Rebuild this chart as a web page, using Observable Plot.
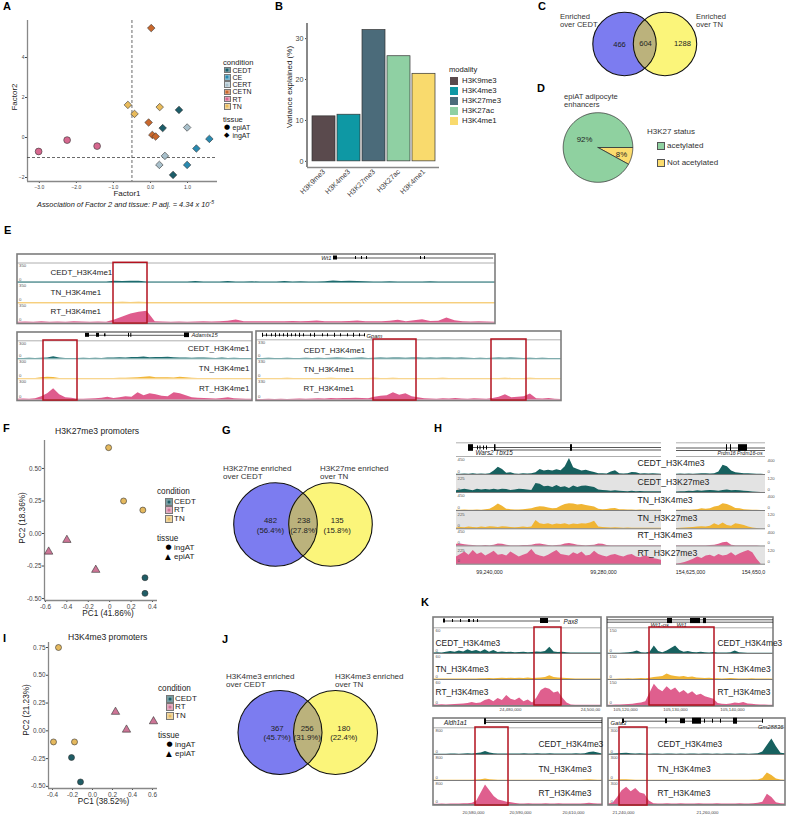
<!DOCTYPE html>
<html><head><meta charset="utf-8">
<script src="https://cdn.jsdelivr.net/npm/d3@7"></script>
<script src="https://cdn.jsdelivr.net/npm/@observablehq/plot@0.6"></script>
<style>
body{margin:0;background:#fff;}
#fig{position:relative;width:789px;height:815px;overflow:hidden;font-family:"Liberation Sans",Arial,Helvetica,sans-serif;color:#222;background:#fff;}
#fig div{position:absolute;white-space:nowrap;line-height:1;}
</style></head><body><div id="fig"></div>
<script>
// ================= DATA =================
// Panel A
const condA = ["CEDT","CE","CERT","CETN","RT","TN"];
const colA = ["#1c5d69","#2a8ab0","#a8c0cb","#c9682d","#d7688f","#e9bb5b"];
const aCond = ["CETN","TN","TN","TN","CEDT","CETN","CEDT","CERT","CETN","CETN","CE","CE","CERT","CERT","CE","CEDT","RT","RT","RT"];
const aTissue = ["ingAT","ingAT","ingAT","ingAT","ingAT","ingAT","ingAT","ingAT","ingAT","ingAT","ingAT","ingAT","ingAT","ingAT","ingAT","ingAT","epiAT","epiAT","epiAT"];
const aFactor1 = [0.02,-0.61,-0.43,0.25,0.77,-0.05,0.33,0.99,0.05,0.14,1.59,1.24,0.39,0.24,0.99,0.61,-3.02,-2.25,-1.44];
const aFactor2 = [5.47,1.63,1.18,1.52,1.38,0.75,0.47,0.50,0.13,0.05,-0.07,-0.55,-0.92,-1.37,-1.37,-1.87,-0.70,-0.13,-0.43];
const aTicksX = [-3,-2,-1,0,1], aTicksY = [-2,0,2,4];
// Panel B
const modality = ["H3K9me3","H3K4me3","H3K27me3","H3K27ac","H3K4me1"];
const varExplained = [11.0,11.4,32.1,25.7,21.4];
const modColors = ["#5a4a4d","#0e98a4","#4b6b7a","#8fd0a3","#f9da6d"];
const bTicks = [0,10,20,30];
// Panel C
const vennC = [466,604,1288];
// Panel D
const pieLabels = ["Not acetylated","acetylated"];
const pieValues = [8,92];
const pieColors = ["#fbdc6e","#8fd1a0"];
// Panels F, I
const condPC = ["CEDT","RT","TN"], colPC = ["#1f5d66","#cd7596","#e5b95e"];
const fCond = ["TN","TN","TN","RT","RT","RT","CEDT","CEDT"];
const fTissue = ["ingAT","ingAT","ingAT","epiAT","epiAT","epiAT","ingAT","ingAT"];
const fPC1 = [-0.01,0.13,0.31,-0.57,-0.40,-0.13,0.33,0.33];
const fPC2 = [0.66,0.25,0.18,-0.14,-0.05,-0.28,-0.34,-0.46];
const iCond = ["TN","TN","TN","CEDT","CEDT","RT","RT","RT"];
const iTissue = ["ingAT","ingAT","ingAT","ingAT","ingAT","epiAT","epiAT","epiAT"];
const iPC1 = [-0.34,-0.39,-0.18,-0.21,-0.12,0.23,0.34,0.61];
const iPC2 = [0.75,-0.10,-0.10,-0.24,-0.46,0.17,0.01,0.085];
// Panels G, J
const vennG = [482,238,135], vennGPct = ["56.4%","27.8%","15.8%"];
const vennJ = [367,256,180], vennJPct = ["45.7%","31.9%","22.4%"];
// Panel E tracks (fraction of track max)
const E1_CEDT = [0.02,0.02,0.03,0.02,0.02,0.03,0.02,0.02,0.03,0.02,0.02,0.02,0.06,0.05,0.07,0.06,0.03,0.02,0.03,0.02,0.03,0.02,0.05,0.02,0.03,0.02,0.05,0.03,0.02,0.04,0.02,0.03,0.02,0.05,0.03,0.04,0.02,0.03,0.04,0.08,0.05,0.06,0.05,0.04,0.03,0.02,0.04,0.02,0.03,0.02,0.03,0.04,0.02,0.03,0.02,0.03,0.02,0.03,0.02,0.02];
const E1_TN = [0.02,0.02,0.02,0.03,0.02,0.02,0.02,0.03,0.02,0.02,0.02,0.02,0.03,0.04,0.03,0.04,0.02,0.02,0.02,0.02,0.03,0.02,0.02,0.02,0.02,0.03,0.02,0.02,0.02,0.02,0.02,0.03,0.02,0.02,0.02,0.03,0.02,0.02,0.02,0.02,0.03,0.02,0.02,0.02,0.02,0.02,0.03,0.02,0.02,0.02,0.02,0.03,0.02,0.02,0.02,0.02,0.03,0.02,0.02,0.02];
const E1_RT = [0.03,0.04,0.03,0.05,0.03,0.04,0.03,0.05,0.04,0.03,0.04,0.03,0.15,0.3,0.45,0.55,0.6,0.05,0.04,0.03,0.04,0.03,0.04,0.05,0.04,0.06,0.08,0.14,0.06,0.05,0.06,0.05,0.06,0.05,0.07,0.06,0.07,0.09,0.06,0.05,0.06,0.07,0.09,0.06,0.05,0.06,0.08,0.13,0.06,0.1,0.16,0.07,0.08,0.25,0.1,0.05,0.04,0.05,0.04,0.03];
const E2_CEDT = [0.02,0.02,0.03,0.02,0.03,0.05,0.12,0.04,0.02,0.02,0.02,0.03,0.02,0.03,0.02,0.04,0.05,0.06,0.05,0.08,0.07,0.1,0.06,0.08,0.07,0.09,0.06,0.05,0.04,0.03,0.05,0.04,0.03,0.02,0.04,0.02,0.03,0.02,0.02,0.02];
const E2_TN = [0.02,0.02,0.02,0.02,0.06,0.08,0.07,0.02,0.02,0.02,0.02,0.02,0.02,0.02,0.02,0.02,0.02,0.03,0.03,0.04,0.05,0.08,0.1,0.06,0.05,0.06,0.04,0.08,0.05,0.03,0.02,0.02,0.02,0.02,0.02,0.02,0.02,0.02,0.02,0.02];
const E2_RT = [0.03,0.04,0.03,0.05,0.15,0.3,0.55,0.25,0.1,0.08,0.03,0.03,0.04,0.05,0.08,0.12,0.06,0.1,0.15,0.12,0.35,0.2,0.3,0.25,0.18,0.15,0.35,0.3,0.2,0.1,0.08,0.06,0.05,0.04,0.06,0.1,0.05,0.04,0.03,0.03];
const E3_CEDT = [0.02,0.02,0.03,0.02,0.02,0.03,0.02,0.02,0.03,0.02,0.03,0.02,0.03,0.04,0.03,0.02,0.03,0.04,0.02,0.03,0.04,0.03,0.05,0.04,0.03,0.05,0.04,0.03,0.04,0.03,0.05,0.04,0.03,0.04,0.03,0.02,0.03,0.02,0.03,0.04,0.03,0.05,0.03,0.02,0.03,0.02,0.03,0.02,0.02,0.02];
const E3_TN = [0.02,0.02,0.02,0.02,0.02,0.03,0.02,0.02,0.02,0.02,0.02,0.02,0.03,0.02,0.02,0.02,0.02,0.02,0.02,0.03,0.02,0.02,0.03,0.02,0.02,0.02,0.02,0.02,0.02,0.02,0.03,0.02,0.02,0.02,0.02,0.02,0.02,0.02,0.02,0.02,0.03,0.02,0.02,0.02,0.03,0.02,0.02,0.02,0.02,0.02];
const E3_RT = [0.02,0.02,0.03,0.02,0.03,0.02,0.03,0.04,0.03,0.04,0.05,0.04,0.06,0.05,0.07,0.06,0.08,0.06,0.05,0.12,0.18,0.2,0.35,0.22,0.3,0.15,0.1,0.05,0.04,0.03,0.05,0.04,0.06,0.04,0.03,0.05,0.04,0.03,0.06,0.12,0.25,0.1,0.12,0.15,0.28,0.05,0.04,0.06,0.03,0.02];
// Panel H tracks: left locus (Wars2/Tbx15) and right locus (Prdm16)
const HL_CEDT_K4 = [0.02,0.02,0.03,0.02,0.05,0.02,0.03,0.02,0.04,0.2,0.42,0.3,0.08,0.1,0.03,0.02,0.04,0.03,0.05,0.1,0.3,0.2,0.25,0.2,0.28,0.22,0.45,0.94,0.4,0.3,0.2,0.25,0.18,0.12,0.05,0.04,0.03,0.15,0.22,0.05,0.03,0.04,0.12,0.1,0.03,0.05,0.03,0.04,0.03,0.02];
const HL_CEDT_K27 = [0.1,0.15,0.2,0.15,0.1,0.2,0.15,0.18,0.15,0.2,0.15,0.2,0.18,0.12,0.15,0.2,0.18,0.15,0.12,0.55,0.5,0.35,0.38,0.3,0.42,0.3,0.35,0.25,0.4,0.3,0.38,0.4,0.35,0.3,0.15,0.12,0.1,0.08,0.1,0.08,0.06,0.05,0.08,0.05,0.06,0.04,0.05,0.04,0.05,0.04];
const HL_TN_K4 = [0.02,0.02,0.03,0.02,0.02,0.03,0.02,0.05,0.08,0.2,0.38,0.25,0.08,0.05,0.03,0.03,0.05,0.08,0.1,0.18,0.22,0.2,0.15,0.1,0.12,0.25,0.35,0.4,0.38,0.32,0.35,0.3,0.25,0.2,0.08,0.05,0.06,0.1,0.12,0.05,0.04,0.03,0.03,0.02,0.03,0.02,0.02,0.02,0.02,0.02];
const HL_TN_K27 = [0.05,0.08,0.06,0.1,0.08,0.06,0.1,0.08,0.12,0.1,0.08,0.12,0.1,0.08,0.06,0.08,0.1,0.08,0.1,0.5,0.3,0.25,0.3,0.22,0.28,0.25,0.3,0.22,0.28,0.25,0.3,0.28,0.35,0.45,0.1,0.08,0.06,0.05,0.06,0.05,0.04,0.05,0.04,0.03,0.04,0.03,0.03,0.03,0.03,0.03];
const HL_RT_K4 = [0.1,0.12,0.08,0.05,0.03,0.02,0.02,0.03,0.02,0.05,0.12,0.1,0.04,0.02,0.02,0.02,0.03,0.03,0.04,0.1,0.12,0.08,0.03,0.02,0.03,0.04,0.12,0.15,0.1,0.05,0.03,0.02,0.03,0.05,0.12,0.1,0.03,0.02,0.02,0.02,0.02,0.02,0.02,0.02,0.02,0.02,0.02,0.02,0.02,0.02];
const HL_RT_K27 = [0.45,0.6,0.75,0.55,0.85,0.6,0.7,0.5,0.65,0.8,0.55,0.6,0.5,0.75,0.6,0.45,0.55,0.65,0.9,0.6,0.5,0.45,0.55,0.7,0.85,0.6,0.55,0.5,0.7,0.6,0.75,0.5,0.55,0.8,0.6,0.5,0.45,0.55,0.6,0.5,0.45,0.55,0.6,0.45,0.4,0.5,0.45,0.35,0.3,0.25];
const HR_CEDT_K4 = [0.02,0.03,0.02,0.03,0.02,0.03,0.05,0.04,0.03,0.05,0.15,0.55,0.45,0.2,0.1,0.08,0.05,0.04,0.03,0.02,0.01,0];
const HR_CEDT_K27 = [0.03,0.05,0.05,0.08,0.06,0.1,0.08,0.1,0.12,0.1,0.08,0.12,0.15,0.1,0.12,0.1,0.08,0.06,0.03,0.02,0,0];
const HR_TN_K4 = [0.02,0.02,0.03,0.02,0.03,0.05,0.1,0.08,0.1,0.2,0.25,0.4,0.35,0.25,0.12,0.1,0.05,0.03,0.02,0.02,0,0];
const HR_TN_K27 = [0.02,0.04,0.05,0.06,0.08,0.1,0.12,0.1,0.15,0.3,0.2,0.35,0.2,0.15,0.3,0.25,0.2,0.1,0.05,0.02,0,0];
const HR_RT_K4 = [0.01,0.01,0.01,0.01,0.02,0.02,0.02,0.02,0.03,0.05,0.1,0.2,0.22,0.05,0.02,0.02,0.01,0.01,0.01,0.01,0,0];
const HR_RT_K27 = [0.02,0.05,0.1,0.2,0.3,0.45,0.35,0.5,0.55,0.45,0.6,0.5,0.55,0.7,0.5,0.65,0.75,0.85,0.7,0.3,0,0];
// Panel K tracks
const K1_CEDT = [0.02,0.03,0.02,0.05,0.08,0.05,0.1,0.06,0.15,0.08,0.12,0.06,0.15,0.05,0.12,0.04,0.06,0.04,0.05,0.03,0.04,0.05,0.03,0.04,0.06,0.05,0.08,0.25,0.06,0.04,0.05,0.03,0.02,0.02,0.02,0.02,0.02,0.02,0.02,0.02];
const K1_TN = [0.02,0.02,0.02,0.02,0.02,0.02,0.02,0.02,0.02,0.02,0.02,0.03,0.03,0.04,0.03,0.04,0.05,0.04,0.05,0.04,0.05,0.04,0.06,0.04,0.05,0.06,0.08,0.15,0.08,0.06,0.05,0.04,0.03,0.02,0.02,0.02,0.02,0.02,0.02,0.02];
const K1_RT = [0.02,0.02,0.03,0.02,0.03,0.04,0.05,0.06,0.08,0.12,0.08,0.1,0.2,0.25,0.15,0.28,0.2,0.4,0.25,0.2,0.3,0.15,0.22,0.1,0.3,0.6,0.7,0.65,0.5,0.55,0.3,0.1,0.02,0.01,0.01,0.01,0.01,0.01,0.01,0.01];
const K2_CEDT = [0.01,0.01,0.01,0.01,0.02,0.03,0.05,0.1,0.03,0.02,0.05,0.3,0.08,0.03,0.1,0.2,0.3,0.12,0.05,0.08,0.04,0.03,0.05,0.03,0.02,0.04,0.02,0.02,0.02,0.03,0.1,0.03,0.02,0.01,0.01,0.01,0.01,0.01,0.01,0.01];
const K2_TN = [0.01,0.01,0.01,0.02,0.02,0.03,0.02,0.03,0.04,0.03,0.05,0.08,0.1,0.12,0.22,0.15,0.12,0.1,0.12,0.08,0.1,0.06,0.05,0.04,0.05,0.03,0.03,0.02,0.03,0.04,0.03,0.02,0.02,0.02,0.03,0.02,0.02,0.02,0.02,0.01];
const K2_RT = [0.01,0.01,0.02,0.02,0.03,0.04,0.05,0.08,0.1,0.15,0.5,0.85,0.65,0.55,0.75,0.6,0.7,0.5,0.6,0.45,0.55,0.4,0.45,0.35,0.3,0.25,0.08,0.05,0.04,0.06,0.1,0.08,0.12,0.06,0.05,0.03,0.02,0.02,0.01,0.01];
const K3_CEDT = [0.01,0.01,0.01,0.01,0.02,0.02,0.01,0.02,0.03,0.02,0.04,0.06,0.12,0.06,0.03,0.02,0.02,0.02,0.02,0.02,0.02,0.03,0.02,0.02,0.03,0.02,0.02,0.03,0.02,0.02,0.02,0.02,0.02,0.03,0.02,0.03,0.08,0.1,0.06,0.02];
const K3_TN = [0.01,0.01,0.01,0.01,0.01,0.01,0.01,0.01,0.01,0.01,0.02,0.03,0.06,0.03,0.02,0.01,0.01,0.01,0.01,0.01,0.01,0.01,0.01,0.01,0.01,0.01,0.01,0.01,0.01,0.01,0.01,0.01,0.01,0.01,0.01,0.02,0.03,0.02,0.01,0.01];
const K3_RT = [0.01,0.01,0.02,0.01,0.02,0.02,0.02,0.03,0.03,0.05,0.15,0.5,0.85,0.6,0.35,0.2,0.15,0.1,0.08,0.04,0.02,0.02,0.03,0.02,0.02,0.02,0.03,0.02,0.02,0.03,0.02,0.02,0.02,0.02,0.02,0.03,0.05,0.03,0.02,0.02];
const K4_CEDT = [0.01,0.02,0.03,0.04,0.05,0.03,0.02,0.03,0.02,0.01,0.02,0.02,0.01,0.02,0.02,0.01,0.02,0.01,0.02,0.02,0.01,0.02,0.02,0.01,0.02,0.01,0.02,0.02,0.01,0.02,0.02,0.01,0.02,0.03,0.1,0.35,0.6,0.3,0.05,0.03];
const K4_TN = [0.01,0.01,0.02,0.03,0.03,0.02,0.01,0.01,0.01,0.01,0.01,0.01,0.01,0.01,0.01,0.01,0.01,0.01,0.01,0.01,0.01,0.01,0.01,0.01,0.01,0.01,0.01,0.01,0.01,0.01,0.01,0.01,0.02,0.02,0.08,0.3,0.2,0.06,0.02,0.01];
const K4_RT = [0.02,0.05,0.3,0.6,0.75,0.55,0.7,0.5,0.45,0.15,0.03,0.02,0.02,0.03,0.02,0.02,0.03,0.02,0.02,0.02,0.03,0.02,0.02,0.02,0.03,0.02,0.02,0.02,0.02,0.03,0.02,0.02,0.03,0.05,0.1,0.45,0.3,0.08,0.03,0.02];

// ================= HELPERS =================
const FONT = '"Liberation Sans", Arial, Helvetica, sans-serif';
const fig = document.getElementById("fig");
function T(x, y, html, o = {}) {
  const s = o.size || 8, d = document.createElement("div");
  d.innerHTML = html;
  d.style.left = x + "px";
  d.style.fontSize = s + "px";
  d.style.color = o.color || "#222";
  if (o.italic) d.style.fontStyle = "italic";
  if (o.bold) d.style.fontWeight = "bold";
  if (o.font) d.style.fontFamily = o.font;
  if (o.rotate) { d.style.top = y + "px"; d.style.transform = `translate(-50%,-50%) rotate(${o.rotate}deg)`; }
  else {
    d.style.top = (y - s * 0.5) + "px";
    if (o.anchor === "end") d.style.transform = "translateX(-100%)";
    else if (o.anchor === "middle") d.style.transform = "translateX(-50%)";
  }
  fig.appendChild(d); return d;
}
function box(x, y, w, h, css) { const d = document.createElement("div"); d.style.cssText = `left:${x}px;top:${y}px;width:${w}px;height:${h}px;box-sizing:border-box;${css}`; fig.appendChild(d); return d; }
function keySwatch(x, yc, color, sz = 8) {
  const d = box(x, yc - sz / 2, sz, sz, `background:${color}99;border:1px solid #777;`);
  const e = document.createElement("div");
  e.style.cssText = `left:50%;top:50%;width:3px;height:3px;border-radius:50%;background:${color};transform:translate(-50%,-50%);`;
  d.appendChild(e);
}
function plotAt(opts, x, y) {
  const svg = Plot.plot(Object.assign({style: {background: "transparent", fontFamily: FONT, fontSize: "6.5px", color: "#333", overflow: "visible"}}, opts));
  svg.style.position = "absolute"; svg.style.left = x + "px"; svg.style.top = y + "px"; svg.style.maxWidth = "none";
  fig.appendChild(svg); return svg;
}
function idScales(L, Tp, W, H) {
  return {width: W, height: H, margin: 0,
    x: {domain: [L, L + W], range: [0, W], axis: null},
    y: {domain: [Tp, Tp + H], range: [0, H], axis: null}};
}
function tx(x, y, t, s = 8, a = "start", i = false, f = "#222") { return {x, y, t, s, a, i, f}; }
function groupTexts(texts) {
  const g = new Map();
  for (const t of texts) { const k = [t.a, t.i ? 1 : 0, t.s, t.f].join("|"); if (!g.has(k)) g.set(k, []); g.get(k).push(t); }
  return [...g].map(([k, arr]) => { const [a, i, s, f] = k.split("|");
    return Plot.text(arr, {x: "x", y: "y", text: "t", textAnchor: a, fontStyle: i === "1" ? "italic" : "normal", fontSize: +s, fill: f}); });
}
const ex = (x1, x2, yc, h) => ({x1, x2, y1: yc - h, y2: yc + h});
const rr = (x1, x2, y1, y2) => ({x1, x2, y1, y2});
const hl = (x1, x2, y) => ({x1, x2, y});

function genome(L, Tp, W, H, g) {
  const m = [];
  if (g.grey) m.push(Plot.rect(g.grey, {x1: "x1", x2: "x2", y1: "y1", y2: "y2", fill: "#e3e3e3"}));
  for (const t of g.tracks) {
    const n = t.v.length;
    const pts = t.v.map((v, i) => ({x: t.xa + (t.xb - t.xa) * i / (n - 1), b: t.y1, y: t.y1 - v * (t.y1 - t.y0)}));
    m.push(Plot.areaY(pts, {x: "x", y1: "b", y2: "y", fill: t.c}));
    m.push(Plot.ruleY([hl(t.xa, t.xb, t.y1)], {y: "y", x1: "x1", x2: "x2", stroke: g.baseColor || t.c, strokeWidth: g.baseW || 0.7}));
  }
  if (g.seps) m.push(Plot.ruleY(g.seps, {y: "y", x1: "x1", x2: "x2", stroke: "#9a9a9a", strokeWidth: 0.8}));
  if (g.boxes) m.push(Plot.rect(g.boxes, {x1: "x1", x2: "x2", y1: "y1", y2: "y2", fill: "none", stroke: "#7d7d7d", strokeWidth: 1.6}));
  if (g.geneLines) m.push(Plot.ruleY(g.geneLines, {y: "y", x1: "x1", x2: "x2", stroke: "#111", strokeWidth: 0.7}));
  if (g.exons) m.push(Plot.rect(g.exons, {x1: "x1", x2: "x2", y1: "y1", y2: "y2", fill: "#000"}));
  m.push(...groupTexts(g.texts));
  if (g.reds) m.push(Plot.rect(g.reds, {x1: "x1", x2: "x2", y1: "y1", y2: "y2", fill: "none", stroke: "#b3121f", strokeWidth: 1.5}));
  plotAt(Object.assign(idScales(L, Tp, W, H), {marks: m}), L, Tp);
}
function venn(L, Tp, W, H, cx1, cx2, cy, r, labelTexts) {
  const a = cx2 - r, b = cx1 + r, lens = [];
  for (let k = 0; k <= 80; k++) {
    const x = a + (b - a) * k / 80;
    const h = Math.min(Math.sqrt(Math.max(0, r * r - (x - cx1) ** 2)), Math.sqrt(Math.max(0, r * r - (x - cx2) ** 2)));
    lens.push({x, y1: cy - h, y2: cy + h});
  }
  const c = [{x: cx1, y: cy}, {x: cx2, y: cy}];
  plotAt(Object.assign(idScales(L, Tp, W, H), {marks: [
    Plot.dot([c[0]], {x: "x", y: "y", r, fill: "#7c7cf0", stroke: "none"}),
    Plot.dot([c[1]], {x: "x", y: "y", r, fill: "#fbf57a", stroke: "none"}),
    Plot.areaY(lens, {x: "x", y1: "y1", y2: "y2", fill: "#bbb27c"}),
    Plot.dot(c, {x: "x", y: "y", r, fill: "none", stroke: "#111", strokeWidth: 1.1}),
    ...groupTexts(labelTexts)
  ]}), L, Tp);
}

// ================= PANEL LETTERS =================
[["A",3,6],["B",275,6],["C",538,6],["D",537,88],["E",4,230],["F",3,428],["G",222,430],["H",434,428],["I",3,638],["J",222,639],["K",421,602]]
  .forEach(([l, x, y]) => T(x, y, l, {size: 11, bold: true, color: "#000"}));

// ================= PANEL A =================
const aRows = aCond.map((c, i) => ({cond: c, tissue: aTissue[i], f1: aFactor1[i], f2: aFactor2[i]}));
const aX = [-3.32, 1.81], aY = [-2.2, 5.85];
plotAt({
  width: 220, height: 200, marginLeft: 27, marginRight: 3, marginTop: 20, marginBottom: 19,
  style: {background: "transparent", fontFamily: FONT, fontSize: "5px", color: "#444", overflow: "visible"},
  x: {domain: aX, ticks: aTicksX, tickSize: 2, tickPadding: 2, label: null},
  y: {domain: aY, ticks: aTicksY, tickSize: 2, tickPadding: 1, label: null},
  color: {domain: condA, range: colA},
  symbol: {domain: ["epiAT", "ingAT"], range: ["circle", "diamond2"]},
  marks: [
    Plot.ruleX([aX[0]], {stroke: "#888", strokeWidth: 1.3}),
    Plot.ruleY([aY[0]], {stroke: "#888", strokeWidth: 1.3}),
    Plot.ruleX([-0.5], {stroke: "#444", strokeDasharray: "3,2", strokeWidth: 0.8}),
    Plot.ruleY([-1], {stroke: "#444", strokeDasharray: "3,2", strokeWidth: 0.8}),
    Plot.dot(aRows, {x: "f1", y: "f2", fill: "cond", symbol: "tissue", r: 3.4, stroke: "#333", strokeWidth: 0.6})
  ]
}, 0, 0);
T(127, 194, "Factor1", {size: 8, anchor: "middle"});
T(15, 97, "Factor2", {size: 8, rotate: -90});
T(37, 204, "Association of Factor 2 and tissue: P adj. = 4.34 x 10<sup style='font-size:5px;vertical-align:3px'>-5</sup>", {size: 7.4, italic: true});
T(223, 62.5, "condition", {size: 7.6});
condA.forEach((c, i) => { const y = 70 + i * 7.3; keySwatch(224, y, colA[i], 6.6); T(232.5, y, c, {size: 7}); });
T(223, 119.5, "tissue", {size: 7.6});
T(224, 127.5, "●", {size: 7, font: "DejaVu Sans", color: "#000"}); T(232.5, 127.5, "epiAT", {size: 7});
T(224, 135, "◆", {size: 7, font: "DejaVu Sans", color: "#000"}); T(232.5, 135, "ingAT", {size: 7});

// ================= PANEL B =================
const bRows = modality.map((m, i) => ({m, v: varExplained[i]}));
plotAt({
  width: 180, height: 200, marginLeft: 45, marginRight: 3, marginTop: 23, marginBottom: 33,
  style: {background: "transparent", fontFamily: FONT, fontSize: "7.2px", color: "#444", overflow: "visible"},
  x: {domain: modality, paddingInner: 0.1, paddingOuter: 0.13, tickRotate: -45, tickSize: 0, tickPadding: 3, label: null},
  y: {domain: [-1.5, 33.7], ticks: bTicks, tickSize: 2, tickPadding: 2, label: null},
  color: {domain: modality, range: modColors},
  marks: [
    Plot.ruleY([-1.5], {stroke: "#888", strokeWidth: 1.3}),
    Plot.barY(bRows, {x: "m", y: "v", fill: "m", stroke: "#333", strokeWidth: 0.7})
  ]
}, 262, 0);
box(306.4, 23, 1.3, 144, "background:#888;");
T(290, 87, "Variance explained (%)", {size: 8, rotate: -90});
T(449, 70, "modality", {size: 7.6});
modality.forEach((m, i) => { const y = 80.5 + i * 10.05; box(450, y - 4, 8, 8, `background:${modColors[i]};`); T(462, y, m, {size: 7.8}); });

// ================= PANEL C =================
venn(540, 0, 249, 85, 624, 664.5, 43.5, 31.7, [
  tx(619, 44.5, String(vennC[0]), 7.6, "middle"), tx(645, 43, String(vennC[1]), 7.6, "middle"), tx(682, 43, String(vennC[2]), 7.6, "middle")
]);
T(560, 17, "Enriched", {size: 7.6, color: "#333"}); T(560, 25.2, "over CEDT", {size: 7.6, color: "#333"});
T(696, 17, "Enriched", {size: 7.6, color: "#333"}); T(696, 25.2, "over TN", {size: 7.6, color: "#333"});

// ================= PANEL D =================
{
  const cx = 597.5, cy = 147, r = 34.8, total = d3.sum(pieValues);
  const marks = []; let acc = 0;
  pieValues.forEach((v, i) => {
    const a0 = acc / total * 2 * Math.PI, a1 = (acc + v) / total * 2 * Math.PI; acc += v;
    const pts = [{x: cx, y: cy}];
    const n = Math.max(4, Math.ceil((a1 - a0) / 0.03));
    for (let k = 0; k <= n; k++) { const a = a0 + (a1 - a0) * k / n; pts.push({x: cx + r * Math.cos(a), y: cy + r * Math.sin(a)}); }
    pts.push({x: cx, y: cy});
    marks.push(Plot.line(pts, {x: "x", y: "y", fill: pieColors[i], stroke: "#333", strokeWidth: 0.8}));
  });
  marks.push(...groupTexts([tx(584, 139, Math.round(pieValues[1]) + "%", 7.8, "middle"), tx(621, 154, Math.round(pieValues[0]) + "%", 7.8, "middle")]));
  plotAt(Object.assign(idScales(540, 85, 110, 110), {marks}), 540, 85);
}
T(564, 97, "epiAT adipocyte", {size: 7.6, color: "#333"}); T(564, 105.2, "enhancers", {size: 7.6, color: "#333"});
T(647, 132, "H3K27 status", {size: 8, color: "#333"});
box(657, 142, 8, 8, `background:${pieColors[1]};border:0.8px solid #555;`); T(667, 146, pieLabels[1], {size: 8, color: "#333"});
box(657, 158.5, 8, 8, `background:${pieColors[0]};border:0.8px solid #555;`); T(667, 162.5, pieLabels[0], {size: 8, color: "#333"});

// ================= PANEL E =================
{
  const TEAL = "#1d6b6e", YEL = "#f1b73a", PINK = "#df5c8d";
  const tr = [
    {v: E1_CEDT, xa: 17, xb: 495, y0: 263, y1: 282, c: TEAL}, {v: E1_TN, xa: 17, xb: 495, y0: 283, y1: 302.5, c: YEL}, {v: E1_RT, xa: 17, xb: 495, y0: 303, y1: 322.3, c: PINK},
    {v: E2_CEDT, xa: 17, xb: 252, y0: 341, y1: 358.3, c: TEAL}, {v: E2_TN, xa: 17, xb: 252, y0: 359, y1: 378.3, c: YEL}, {v: E2_RT, xa: 17, xb: 252, y0: 379, y1: 399.3, c: PINK},
    {v: E3_CEDT, xa: 256, xb: 561, y0: 340, y1: 358.3, c: TEAL}, {v: E3_TN, xa: 256, xb: 561, y0: 359, y1: 378.3, c: YEL}, {v: E3_RT, xa: 256, xb: 561, y0: 379, y1: 399.3, c: PINK}
  ];
  const texts = [
    tx(50, 272, "CEDT_H3K4me1"), tx(50, 291.5, "TN_H3K4me1"), tx(50, 311, "RT_H3K4me1"),
    tx(249, 348, "CEDT_H3K4me1", 8, "end"), tx(249, 368, "TN_H3K4me1", 8, "end"), tx(249, 388, "RT_H3K4me1", 8, "end"),
    tx(303, 350, "CEDT_H3K4me1"), tx(303, 369, "TN_H3K4me1"), tx(303, 388, "RT_H3K4me1"),
    tx(331, 257.5, "Wt1", 5.8, "end", true), tx(191, 335, "Adamts15", 5.8, "start", true), tx(366, 336, "Gpam", 5.8, "start", true)
  ];
  const scl = ["350", "350", "350", "300", "300", "300", "330", "330", "330"];
  tr.forEach((t, i) => { texts.push(tx(t.xa + 1.5, t.y0 + 2.2, scl[i], 4.3, "start", false, "#555")); texts.push(tx(t.xa + 1.5, t.y1 - 3, "0", 4.3, "start", false, "#555")); });
  const gpamTicks = [262, 266, 271, 275, 279, 283, 287, 291, 295, 299, 303, 310, 314, 322, 327, 334, 340, 347, 353, 359, 364];
  genome(14, 250, 552, 153, {
    tracks: tr, baseW: 0.6,
    boxes: [rr(17, 495, 254, 323.5), rr(17, 252, 332, 400.5), rr(256, 561, 331, 400.5)],
    seps: [hl(17, 495, 262.5), hl(17, 252, 340.3), hl(256, 561, 339.3)],
    geneLines: [hl(333, 493, 257.5), hl(86, 187, 334.8), hl(262, 365, 334.8)],
    exons: [ex(333, 337, 257.5, 2), ex(355, 356, 257.5, 1.5), ex(361, 362, 257.5, 1.5), ex(366, 367, 257.5, 1.5), ex(420, 421, 257.5, 1.5), ex(424, 425, 257.5, 1.5),
      ex(85, 89, 334.8, 2), ex(96, 99, 334.8, 2), ex(104, 105.5, 334.8, 1.5), ex(128, 129, 334.8, 2), ex(130.3, 131.3, 334.8, 2), ex(184, 189, 334.8, 2.3),
      ...gpamTicks.map((x, i) => ex(x, x + 1, 334.8, i % 3 === 0 ? 2 : 1.5))],
    reds: [rr(113, 147, 262.3, 323), rr(43, 77, 340, 400), rr(373, 416, 339, 400), rr(491, 526, 339, 400)],
    texts
  });
}

// ================= PANEL F =================
function pcScatter(rows, left, top, W, H, mg, xd, yd, xt, yt, xfmt) {
  plotAt({
    width: W, height: H, marginLeft: mg[0], marginTop: mg[1], marginRight: mg[2], marginBottom: mg[3],
    style: {background: "transparent", fontFamily: FONT, fontSize: "6.4px", color: "#444", overflow: "visible"},
    x: {domain: xd, ticks: xt, tickFormat: xfmt, tickSize: 2, tickPadding: 1.5, label: null},
    y: {domain: yd, ticks: yt, tickFormat: d => d.toFixed(2), tickSize: 2, tickPadding: 1, label: null},
    color: {domain: condPC, range: colPC},
    symbol: {domain: ["ingAT", "epiAT"], range: ["circle", "triangle"]},
    marks: [
      Plot.ruleX([xd[0]], {stroke: "#888", strokeWidth: 1.3}),
      Plot.ruleY([yd[0]], {stroke: "#888", strokeWidth: 1.3}),
      Plot.dot(rows, {x: "pc1", y: "pc2", fill: "cond", symbol: "tissue", r: d => d.tissue === "epiAT" ? 3.3 : 3.1, stroke: "#333", strokeWidth: 0.6})
    ]
  }, left, top);
}
const fRows = fCond.map((c, i) => ({cond: c, tissue: fTissue[i], pc1: fPC1[i], pc2: fPC2[i]}));
pcScatter(fRows, 0, 430, 160, 195, [44, 10, 3, 25], [-0.609, 0.447], [-0.515, 0.715], [-0.6, -0.4, -0.2, 0, 0.2, 0.4], [-0.5, -0.25, 0, 0.25, 0.5], d => d === 0 ? "0" : d.toFixed(1));
T(55, 431, "H3K27me3 promoters", {size: 8.6});
T(108, 614, "PC1 (41.86%)", {size: 8.2, anchor: "middle"});
T(23, 518, "PC2 (18.36%)", {size: 8.2, rotate: -90});
function pcLegend(x, yc, yt) {
  T(x, yc, "condition", {size: 8.2});
  condPC.forEach((c, i) => { const y = yc + 9.7 + i * 8.6; keySwatch(x + 7.5, y, colPC[i]); T(x + 17, y, c, {size: 8}); });
  T(x, yt, "tissue", {size: 8.2});
  T(x + 8.5, yt + 8.5, "●", {size: 7, font: "DejaVu Sans", color: "#000"}); T(x + 17, yt + 8.5, "ingAT", {size: 8});
  T(x + 8, yt + 17.8, "▲", {size: 7.5, font: "DejaVu Sans", color: "#000"}); T(x + 17, yt + 17.8, "epiAT", {size: 8});
}
pcLegend(157, 492, 539);

// ================= PANEL G =================
venn(220, 440, 180, 140, 275, 330, 524, 41.8, [
  tx(270, 520.3, String(vennG[0])), tx(270, 529.5, `(${vennGPct[0]})`), tx(303.3, 520.3, String(vennG[1])), tx(303.3, 529.5, `(${vennGPct[1]})`),
  tx(336.7, 520.3, String(vennG[2])), tx(336.7, 529.5, `(${vennGPct[2]})`)
].map(t => Object.assign(t, {a: "middle", s: 7.8, f: "#222"})));
T(223, 468.5, "H3K27me enriched", {size: 8, color: "#333"}); T(223, 477, "over CEDT", {size: 8, color: "#333"});
T(320, 468.5, "H3K27me enriched", {size: 8, color: "#333"}); T(320, 477, "over TN", {size: 8, color: "#333"});

// ================= PANEL H =================
{
  const TEAL = "#17615f", YEL = "#f0b534", PINK = "#df5f8e";
  const rows = [
    ["CEDT_H3K4me3", TEAL, HL_CEDT_K4, HR_CEDT_K4, 457, 474, "450", "400"],
    ["CEDT_H3K27me3", TEAL, HL_CEDT_K27, HR_CEDT_K27, 475.5, 492, "225", "120"],
    ["TN_H3K4me3", YEL, HL_TN_K4, HR_TN_K4, 493, 510, "450", "400"],
    ["TN_H3K27me3", YEL, HL_TN_K27, HR_TN_K27, 511.5, 528.3, "225", "120"],
    ["RT_H3K4me3", PINK, HL_RT_K4, HR_RT_K4, 529, 545.5, "450", "400"],
    ["RT_H3K27me3", PINK, HL_RT_K27, HR_RT_K27, 547.5, 563.7, "225", "120"]
  ];
  const tracks = [], texts = [], grey = [];
  const labY = [463, 481.5, 500, 518, 534.5, 553];
  rows.forEach((r, i) => {
    tracks.push({v: r[2], xa: 456, xb: 661, y0: r[4], y1: r[5], c: r[1]});
    tracks.push({v: r[3], xa: 676, xb: 765, y0: r[4], y1: r[5], c: r[1]});
    if (i % 2 === 1) { grey.push(rr(456, 661, r[4] - 0.5, r[5])); grey.push(rr(676, 765, r[4] - 0.5, r[5])); }
    texts.push(tx(457, r[4] + 2.2, r[6], 4.3, "start", false, "#555"), tx(457, r[5] - 3.2, "0", 4.3, "start", false, "#555"));
    texts.push(tx(767, r[4] + 3, r[7], 4.3, "start", false, "#555"), tx(767, r[5] - 3, "0", 4.3, "start", false, "#555"));
  });
  const labels = rows.map((r, i) => tx(637, labY[i], r[0], 8.7));
  texts.push(tx(475, 452.8, "Wars2 Tbx15", 6.3, "start", true), tx(762, 452.8, "Prdm16 Prdm16-os", 5.2, "end", true));
  texts.push(tx(489, 572, "99,240,000", 5.3, "middle"), tx(603, 572, "99,280,000", 5.3, "middle"), tx(690, 572, "154,625,000", 5.3, "middle"), tx(753, 572, "154,650,0", 5.3, "middle"));
  genome(430, 436, 359, 142, {
    tracks, grey, baseColor: "#444", baseW: 0.7,
    seps: [hl(456, 661, 442.3), hl(676, 765, 442.3), hl(456, 661, 456), hl(676, 765, 456)],
    geneLines: [hl(468, 661, 447), hl(494, 661, 449.5), hl(676, 765, 447.5), hl(676, 765, 450)],
    exons: [ex(468, 473, 447.5, 3.3), ex(477, 478, 447.5, 2), ex(479.5, 480.5, 447.5, 2), ex(483, 484, 447.5, 2), ex(486, 487, 447.5, 2),
      ex(494, 495.5, 447.5, 3.3), ex(570, 572, 447.5, 3.3), ex(726, 727, 447.5, 3.3), ex(730, 731, 447.5, 3.3), ex(738, 747, 447.5, 3.3)],
    texts: texts.concat(labels)
  });
}

// ================= PANEL I =================
const iRows = iCond.map((c, i) => ({cond: c, tissue: iTissue[i], pc1: iPC1[i], pc2: iPC2[i]}));
pcScatter(iRows, 0, 637, 160, 178, [48, 5, 3, 27], [-0.44, 0.65], [-0.519, 0.795], [-0.4, -0.2, 0, 0.2, 0.4, 0.6], [-0.5, -0.25, 0, 0.25, 0.5, 0.75], d => d.toFixed(1));
T(68, 637, "H3K4me3 promoters", {size: 8.6});
T(103.5, 802, "PC1 (38.52%)", {size: 8.2, anchor: "middle"});
T(27, 710, "PC2 (21.23%)", {size: 8.2, rotate: -90});
pcLegend(158, 689, 736);

// ================= PANEL J =================
venn(220, 650, 200, 130, 279.5, 335, 732, 42, [
  tx(276.7, 727.7, String(vennJ[0])), tx(276.7, 736.7, `(${vennJPct[0]})`), tx(306.7, 727.7, String(vennJ[1])), tx(306.7, 736.7, `(${vennJPct[1]})`),
  tx(343.3, 727.7, String(vennJ[2])), tx(343.3, 736.7, `(${vennJPct[2]})`)
].map(t => Object.assign(t, {a: "middle", s: 7.8, f: "#222"})));
T(226, 676.8, "H3K4me3 enriched", {size: 8, color: "#333"}); T(226, 685.3, "over CEDT", {size: 8, color: "#333"});
T(335, 676.8, "H3K4me3 enriched", {size: 8, color: "#333"}); T(335, 685.3, "over TN", {size: 8, color: "#333"});

// ================= PANEL K =================
{
  const TEAL = "#17615f", YEL = "#f0b534", PINK = "#df5f8e";
  const top = [[628, 653], [654, 679], [680, 705]], bot = [[728, 754], [755, 780], [781, 804]];
  const spec = [
    {xa: 433, xb: 601, ys: top, v: [K1_CEDT, K1_TN, K1_RT], sc: "60", lx: 435, la: "start", ly: [643, 669, 692]},
    {xa: 607, xb: 773, ys: top, v: [K2_CEDT, K2_TN, K2_RT], sc: "150", lx: 717, la: "start", ly: [643, 669, 692]},
    {xa: 433, xb: 602, ys: bot, v: [K3_CEDT, K3_TN, K3_RT], sc: "800", lx: 538, la: "start", ly: [744, 769, 793]},
    {xa: 608, xb: 785, ys: bot, v: [K4_CEDT, K4_TN, K4_RT], sc: "300", lx: 657, la: "start", ly: [744, 769, 793]}
  ];
  const names = ["CEDT_H3K4me3", "TN_H3K4me3", "RT_H3K4me3"], cols = [TEAL, YEL, PINK];
  const tracks = [], texts = [];
  spec.forEach(s => s.v.forEach((v, j) => {
    tracks.push({v, xa: s.xa, xb: s.xb, y0: s.ys[j][0], y1: s.ys[j][1], c: cols[j]});
    texts.push(tx(s.xa + 2, s.ys[j][0] + 2.2, s.sc, 4.3, "start", false, "#555"), tx(s.xa + 2, s.ys[j][1] - 3.2, "0", 4.3, "start", false, "#555"));
    texts.push(tx(s.lx, s.ly[j], names[j], 8.4, s.la));
  }));
  texts.push(tx(563, 621, "Pax8", 6.3, "start", true), tx(650, 624.5, "Wt1-os", 5.8, "start", true), tx(676, 624.5, "Wt1", 5.8, "start", true),
    tx(455, 722, "Aldh1a1", 6.3, "middle", true), tx(610, 722.5, "Gata3", 5.8, "start", true), tx(783, 727, "Gm28836", 5.8, "end", true));
  texts.push(tx(510, 709.5, "24,480,000", 4.4, "middle", false, "#444"), tx(590, 709.5, "24,500,00", 4.4, "middle", false, "#444"),
    tx(625, 709.5, "105,120,000", 4.4, "middle", false, "#444"), tx(675, 709.5, "105,130,000", 4.4, "middle", false, "#444"), tx(732, 709.5, "105,140,000", 4.4, "middle", false, "#444"),
    tx(473, 812, "20,580,000", 4.4, "middle", false, "#444"), tx(520, 812, "20,590,000", 4.4, "middle", false, "#444"), tx(573, 812, "20,610,000", 4.4, "middle", false, "#444"),
    tx(623, 812, "21,240,000", 4.4, "middle", false, "#444"), tx(707, 812, "21,260,000", 4.4, "middle", false, "#444"));
  const gK4 = [[622, 624, 2.3], [665, 667, 2.5], [680, 685, 2.5], [692, 701, 3], [704, 705, 2], [712, 713, 2], [720, 721, 2], [733, 737, 3], [762, 763, 2]];
  genome(420, 612, 369, 203, {
    tracks, baseColor: "#444", baseW: 0.7,
    boxes: [rr(433, 601, 617, 706), rr(607, 773, 617, 706), rr(433, 602, 718, 805), rr(608, 785, 718, 805)],
    seps: [hl(433, 601, 627.3), hl(607, 773, 627.3), hl(433, 602, 727.3), hl(608, 785, 727.3)],
    geneLines: [hl(443, 560, 620.5), hl(607, 773, 619.3), hl(607, 773, 621.7), hl(484, 602, 720.3), hl(484, 602, 722), hl(622, 763, 720.7)],
    exons: [ex(443, 445, 620.5, 2), ex(452, 453, 620.5, 1.5), ex(460, 461, 620.5, 1.5), ex(468, 470, 620.5, 1.5), ex(473, 474, 620.5, 1.5), ex(477, 478, 620.5, 1.5), ex(540, 548, 620.5, 2.5),
      ex(667, 672, 620.5, 2.6), ex(690, 700, 620.5, 2.6), ex(703, 706, 620.5, 2.6), ex(484, 486, 721.2, 3),
      ...gK4.map(g => ex(g[0], g[1], 720.7, g[2]))],
    reds: [rr(534, 561, 627, 705), rr(649, 714, 627, 705), rr(475, 508, 727, 805), rr(619, 647, 727, 805)],
    texts
  });
}
</script></body></html>
